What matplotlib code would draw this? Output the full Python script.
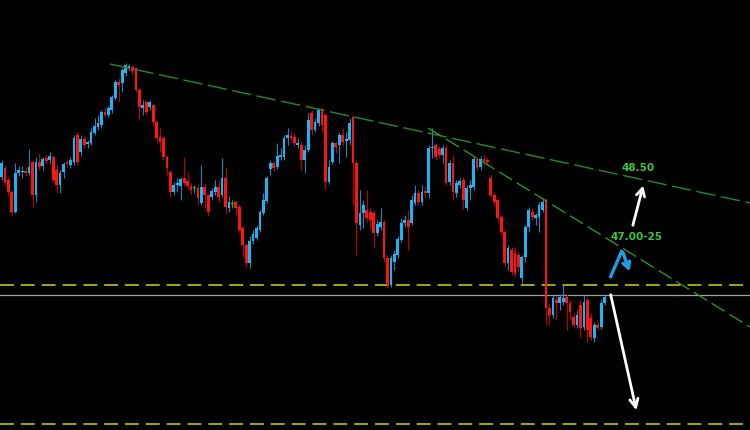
import matplotlib
matplotlib.use('Agg')
import matplotlib.pyplot as plt
import numpy as np

plt.rcParams['lines.scale_dashes'] = False

# ---- OHLC data (price units) ----
open_ = [48.62, 48.80, 48.56, 48.32, 47.92, 48.70, 48.72, 48.74, 48.70, 48.92,
         48.26, 48.92, 48.84, 49.00, 48.96, 49.02, 48.76, 48.46, 48.72, 48.92,
         48.86, 48.92, 49.46, 49.12, 49.38, 49.28, 49.30, 49.50, 49.62, 49.66,
         49.92, 49.86, 49.96, 50.20, 50.52, 50.50, 50.70, 50.80, 50.82, 50.80,
         50.36, 50.00, 50.12, 50.02, 50.06, 49.72, 49.42, 49.40, 49.02, 48.72,
         48.32, 48.46, 48.44, 48.60, 48.54, 48.44, 48.40, 48.40, 48.10, 48.42,
         48.26, 48.22, 48.32, 48.42, 48.26, 48.60, 48.00, 48.08, 48.12, 48.02,
         47.60, 47.26, 46.90, 47.34, 47.40, 47.56, 47.90, 48.14, 48.78, 48.90,
         48.82, 49.02, 49.02, 49.40, 49.44, 49.42, 49.26, 49.26, 48.96, 49.16,
         49.90, 49.56, 49.70, 49.98, 49.86, 48.52, 48.92, 49.30, 49.26, 49.46,
         49.34, 49.36, 49.82, 48.90, 47.66, 47.90, 47.96, 47.92, 47.90, 47.50,
         47.62, 47.72, 47.00, 46.46, 46.92, 47.06, 47.36, 47.70, 47.76, 47.70,
         48.10, 48.30, 48.12, 48.34, 48.30, 49.20, 49.26, 49.18, 49.06, 49.20,
         48.52, 48.90, 48.30, 48.46, 48.56, 48.00, 48.40, 48.42, 48.98, 48.82,
         48.98, 48.96, 48.60, 48.26, 48.16, 47.82, 47.52, 46.90, 47.16, 47.10,
         47.06, 46.60, 47.02, 47.62, 47.92, 47.80, 47.82, 47.96, 48.16, 46.00,
         45.86, 46.16, 46.10, 46.12, 46.22, 46.10, 45.82, 45.66, 46.06, 45.62,
         46.16, 45.80, 45.40, 45.66, 45.62, 46.10]

close = [48.90, 48.52, 48.32, 47.92, 48.70, 48.76, 48.74, 48.70, 48.82, 48.26,
         48.92, 48.82, 48.98, 48.94, 49.04, 48.56, 48.46, 48.70, 48.88, 48.88,
         48.96, 49.40, 48.92, 49.38, 49.26, 49.32, 49.52, 49.64, 49.70, 49.92,
         49.86, 50.00, 50.22, 50.52, 50.46, 50.76, 50.86, 50.84, 50.74, 50.36,
         50.02, 50.06, 49.92, 50.12, 49.72, 49.40, 49.32, 49.02, 48.80, 48.32,
         48.46, 48.50, 48.58, 48.50, 48.44, 48.36, 48.40, 48.20, 48.42, 48.26,
         47.92, 48.34, 48.42, 48.22, 48.60, 48.02, 48.12, 48.08, 48.00, 47.56,
         47.26, 46.90, 47.34, 47.48, 47.60, 47.92, 48.16, 48.60, 48.90, 48.80,
         49.04, 49.06, 49.40, 49.46, 49.40, 49.30, 49.30, 48.96, 49.16, 49.76,
         49.56, 49.72, 49.96, 49.66, 48.52, 48.82, 49.30, 49.22, 49.46, 49.32,
         49.38, 49.70, 48.90, 47.70, 47.90, 48.06, 47.80, 47.76, 47.50, 47.68,
         47.72, 47.00, 46.46, 47.00, 47.08, 47.38, 47.70, 47.76, 47.62, 48.16,
         48.30, 48.12, 48.32, 48.30, 49.20, 49.22, 49.02, 49.06, 49.20, 48.50,
         48.90, 48.32, 48.50, 48.54, 48.16, 48.40, 48.46, 48.98, 48.82, 48.98,
         48.94, 48.92, 48.26, 48.12, 47.80, 47.52, 46.90, 47.20, 46.72, 46.70,
         46.82, 47.02, 47.62, 47.96, 47.82, 47.86, 48.06, 48.12, 46.00, 45.86,
         46.20, 46.10, 46.22, 46.20, 46.10, 45.92, 45.66, 45.86, 45.60, 46.12,
         45.56, 45.42, 45.66, 45.60, 46.10, 46.22]

high = [48.96, 48.86, 48.62, 48.36, 48.90, 48.84, 48.84, 48.80, 49.18, 48.96,
        49.02, 49.10, 49.02, 49.06, 49.12, 49.06, 48.86, 48.76, 48.92, 48.96,
        49.02, 49.46, 49.52, 49.46, 49.44, 49.36, 49.60, 49.80, 49.86, 49.96,
        50.00, 50.04, 50.26, 50.56, 50.60, 50.80, 50.90, 50.88, 50.86, 50.82,
        50.40, 50.16, 50.16, 50.16, 50.10, 49.76, 49.60, 49.44, 49.06, 48.76,
        48.52, 48.60, 48.62, 49.02, 48.72, 48.50, 48.46, 48.48, 48.86, 48.50,
        48.30, 48.40, 48.56, 48.56, 49.00, 48.80, 48.24, 48.16, 48.16, 48.06,
        47.64, 47.30, 47.44, 47.56, 47.66, 47.96, 48.30, 48.64, 48.96, 48.94,
        49.30, 49.20, 49.46, 49.60, 49.56, 49.50, 49.40, 49.34, 49.26, 49.90,
        49.96, 49.80, 50.00, 50.02, 49.90, 48.96, 49.34, 49.34, 49.52, 49.60,
        49.52, 49.80, 49.86, 48.96, 48.36, 48.16, 48.36, 48.00, 47.96, 47.76,
        48.00, 47.76, 47.06, 47.06, 47.16, 47.44, 47.80, 47.86, 47.96, 48.26,
        48.46, 48.36, 48.46, 48.44, 49.26, 49.60, 49.30, 49.24, 49.26, 49.26,
        48.96, 49.06, 48.56, 48.60, 48.62, 48.46, 48.56, 49.02, 49.02, 49.04,
        49.06, 49.02, 48.66, 48.32, 48.20, 47.86, 47.56, 47.26, 47.22, 47.22,
        47.12, 47.06, 47.66, 48.02, 48.00, 47.90, 48.12, 48.20, 48.20, 46.10,
        46.26, 46.24, 46.28, 46.46, 46.28, 46.16, 45.90, 45.96, 46.16, 46.26,
        46.22, 45.90, 45.72, 45.72, 46.16, 46.28]

low = [48.56, 48.44, 48.24, 47.86, 47.90, 48.64, 48.60, 48.64, 48.66, 48.02,
       48.12, 48.76, 48.76, 48.90, 48.88, 48.52, 48.30, 48.30, 48.60, 48.82,
       48.80, 48.86, 48.86, 49.04, 49.20, 49.20, 49.26, 49.46, 49.56, 49.60,
       49.82, 49.82, 49.90, 50.16, 50.12, 50.32, 50.64, 50.76, 50.68, 50.32,
       49.76, 49.86, 49.86, 49.96, 49.66, 49.32, 49.12, 48.96, 48.66, 48.22,
       48.26, 48.32, 48.16, 48.44, 48.36, 48.28, 48.30, 48.06, 48.06, 48.00,
       47.84, 48.16, 48.26, 48.12, 48.22, 47.90, 47.92, 48.00, 47.86, 47.52,
       47.04, 46.82, 46.80, 47.28, 47.36, 47.52, 47.86, 48.10, 48.66, 48.74,
       48.78, 48.96, 48.96, 49.26, 49.32, 49.24, 49.20, 48.76, 48.70, 49.12,
       49.46, 49.52, 49.64, 49.52, 48.36, 48.48, 48.88, 49.10, 48.90, 49.26,
       49.02, 49.26, 48.06, 47.06, 47.56, 47.60, 47.72, 47.60, 47.20, 47.44,
       47.56, 46.92, 46.40, 46.42, 46.76, 47.00, 47.32, 47.62, 47.16, 47.66,
       48.06, 48.06, 48.06, 48.20, 48.20, 49.00, 48.96, 49.00, 48.90, 48.46,
       48.46, 48.16, 48.22, 48.40, 47.98, 47.96, 48.16, 48.36, 48.76, 48.76,
       48.86, 48.88, 48.22, 48.04, 47.72, 47.46, 46.84, 46.76, 46.66, 46.62,
       46.72, 46.50, 46.92, 47.52, 47.76, 47.66, 47.52, 47.92, 45.66, 45.66,
       45.80, 45.76, 45.96, 46.06, 45.56, 45.76, 45.60, 45.60, 45.42, 45.56,
       45.32, 45.36, 45.32, 45.56, 45.58, 46.06]

# ---- analysis levels ----
resistance_line = [(31.5, 50.88), (217.2, 48.10)]   # upper falling trendline
short_trend_line = [(123.8, 49.60), (217.2, 45.62)] # steeper falling trendline
support_level = 46.46        # dashed yellow
current_level = 46.26        # thin grey line
target_level = 43.68         # lower dashed yellow
label_upper = "48.50"
label_mid = "47.00-25"

n = len(open_)
x = np.arange(n)
o = np.array(open_); c = np.array(close); h = np.array(high); l = np.array(low)

fig = plt.figure(figsize=(7.5, 4.3), dpi=100)
fig.patch.set_facecolor('black')
ax = fig.add_axes([0, 0, 1, 1])
ax.set_facecolor('black')
ax.set_xlim(-0.44, 217.2)
ax.set_ylim(43.56, 52.16)
ax.axis('off')

up = c > o
dn = c < o
blue, blue_w = '#1cb4f2', '#1488c0'
red, red_w = '#ff1414', '#c00000'
green = '#10c010'

wick_cols = np.where(up, blue_w, np.where(dn, red_w, green))
ax.vlines(x, l, h, colors=list(wick_cols), linewidth=0.8, zorder=2)
bottoms = np.minimum(o, c)
heights = np.maximum(np.abs(c - o), 0.025)
body_cols = np.where(up, blue, np.where(dn, red, green))
ax.bar(x, heights, bottom=bottoms, width=0.8, color=list(body_cols),
       linewidth=0, antialiased=False, zorder=3)

# horizontal levels
ax.axhline(support_level, color='#a8a800', lw=1.4, ls=(0, (10, 5)), zorder=1)
ax.axhline(current_level, color='#a0a0a0', lw=0.9, zorder=1)
ax.axhline(target_level, color='#a8a800', lw=1.4, ls=(0, (10, 5)), zorder=1)

# trendlines
(x1, y1), (x2, y2) = resistance_line
ax.plot([x1, x2], [y1, y2], color='#1f8f1f', lw=1.0, ls=(0, (14, 4)), zorder=4)
(x1, y1), (x2, y2) = short_trend_line
ax.plot([x1, x2], [y1, y2], color='#28a428', lw=0.9, ls=(0, (11, 4)), zorder=4)

# arrows
ax.annotate('', xy=(186.4, 48.50), xytext=(183.0, 47.60),
            arrowprops=dict(arrowstyle='->,head_length=0.55,head_width=0.3',
                            color='white', lw=2), zorder=6)
ax.plot([176.6, 180.1], [46.60, 47.16], color='#1e9ee6', lw=2.4,
        solid_capstyle='butt', zorder=6)
ax.annotate('', xy=(182.5, 46.68), xytext=(180.1, 47.16),
            arrowprops=dict(arrowstyle='->,head_length=0.45,head_width=0.25',
                            color='#1e9ee6', lw=2.4), zorder=6)
ax.annotate('', xy=(184.4, 43.90), xytext=(176.6, 46.32),
            arrowprops=dict(arrowstyle='->,head_length=0.6,head_width=0.3',
                            color='white', lw=2), zorder=6)

# labels
ax.text(184.7, 48.80, label_upper, color='#3cc83c', fontsize=7.5,
        fontweight='bold', ha='center', va='center', zorder=7)
ax.text(184.4, 47.42, label_mid, color='#3cc83c', fontsize=7.5,
        fontweight='bold', ha='center', va='center', zorder=7)

fig.savefig('out.png', dpi=100, facecolor='black')
